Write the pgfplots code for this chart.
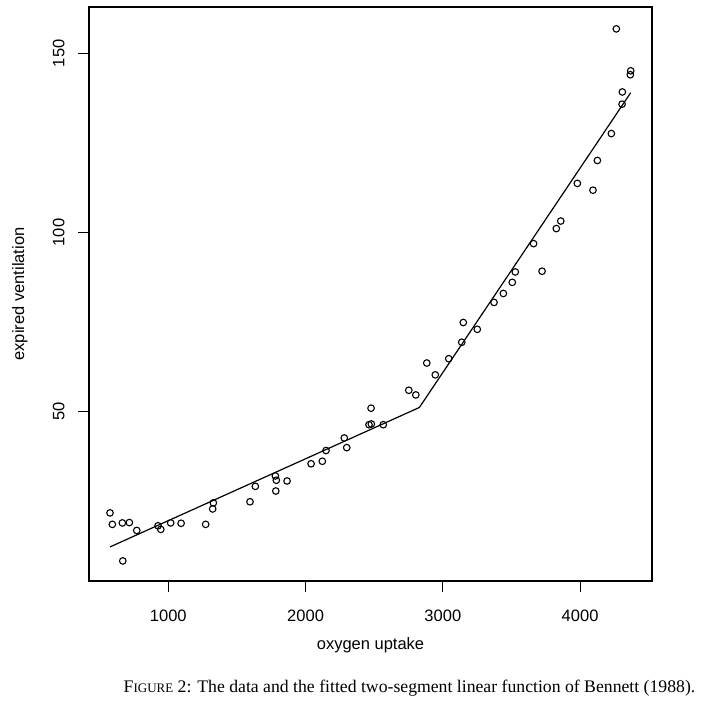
\documentclass[border=0pt]{standalone}
\usepackage{fontspec}
\setmainfont{Liberation Serif}
\setsansfont{Liberation Sans}
\usepackage{pgfplots}
\usepackage{pgfplotstable}
\pgfplotsset{compat=1.18}
\pgfplotstableread{
x y
575 21.8
592 18.6
665 19.0
716 19.1
770 16.9
668 8.4
925 18.2
945 17.2
1017 19.0
1093 18.9
1272 18.6
1323 22.9
1328 24.6
1595 24.9
1634 29.2
1783 27.9
1787 30.9
1780 32.1
1865 30.7
2040 35.5
2122 36.2
2149 39.2
2282 42.7
2300 40.0
2462 46.4
2479 46.6
2477 51.0
2566 46.4
2752 56.0
2803 54.7
2883 63.6
2945 60.3
3043 64.8
3138 69.4
3149 74.9
3251 73.0
3373 80.5
3441 83.0
3506 86.1
3528 89.0
3661 96.9
3723 89.2
3827 101.1
3859 103.2
3980 113.7
4094 111.8
4126 120.1
4228 127.6
4306 135.8
4308 139.2
4366 144.0
4369 145.1
4264 156.8
}\pts
\pgfplotstableread{
x y
575 12.3
2829 51.2
4369 139.0
}\fit
\begin{document}
\begin{tikzpicture}
\path[use as bounding box] (-89pt,-132pt) rectangle (631pt,581pt);
\begin{axis}[
  at={(0pt,0pt)}, anchor=south west,
  scale only axis, width=563pt, height=574pt,
  xmin=422, xmax=4524, ymin=2.8, ymax=162.9,
  xtick={1000,2000,3000,4000}, ytick={50,100,150},
  xtick pos=bottom, ytick pos=left,
  tick align=outside, major tick length=11pt,
  tick style={black, line width=0.9pt},
  axis line style={line width=1.1pt},
  /pgf/number format/assume math mode=true,
  /pgf/number format/1000 sep={},
  ticklabel style={font=\sffamily\fontsize{16.5}{19}\selectfont},
  yticklabel style={rotate=90, anchor=south},
  xticklabel shift=14pt, yticklabel shift=10pt,
  xlabel={oxygen uptake}, ylabel={expired ventilation},
  label style={font=\sffamily\fontsize{16.5}{19}\selectfont},
  xlabel style={at={(axis description cs:0.5,-0.1115)}, anchor=center},
  ylabel style={at={(axis description cs:-0.1226,0.5)}, anchor=center},
]
\addplot[only marks, mark=o, mark size=3.3pt, mark options={line width=1.1pt}] table {\pts};
\addplot[black, line width=1.2pt] table {\fit};
\end{axis}
\node[font=\fontsize{17.7}{21}\selectfont] at (320.5pt,-107pt) {F{\fontsize{13}{15}\selectfont IGURE}~2: The data and the fitted two-segment linear function of Bennett (1988).};
\end{tikzpicture}
\end{document}
